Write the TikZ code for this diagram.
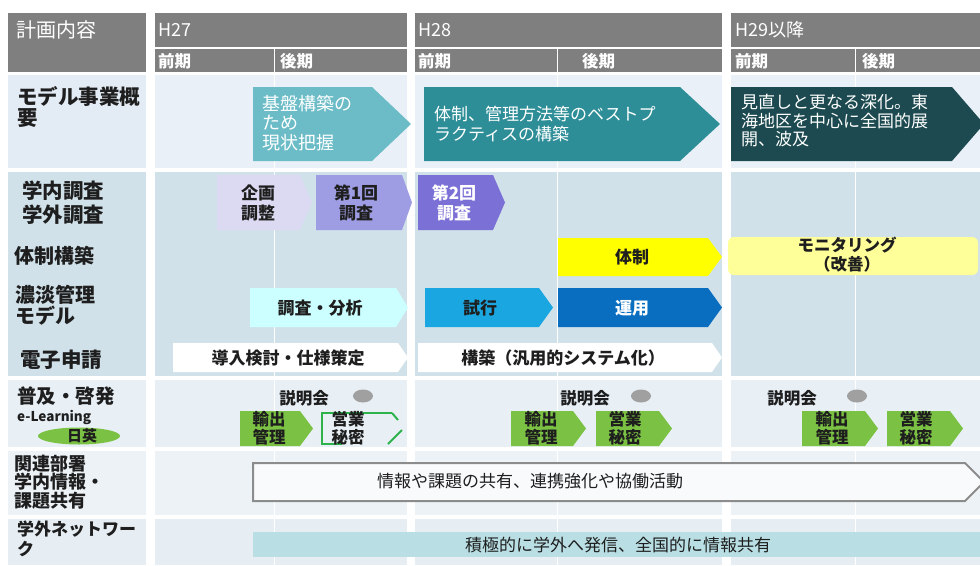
\documentclass[tikz,border=0pt]{standalone}
\usepackage{fontspec}
\setmainfont{Noto Sans CJK JP}
\definecolor{hdr}{HTML}{7F7F7F}
\definecolor{txtc}{HTML}{1E1E1E}
\definecolor{labA}{HTML}{E3EBF4}
\definecolor{rowA}{HTML}{E9F0F7}
\definecolor{rowB}{HTML}{D0E1E9}
\definecolor{rowC}{HTML}{E8F0F6}
\definecolor{rowD}{HTML}{EDF2F6}
\definecolor{rowE}{HTML}{E6EEF3}
\definecolor{arA}{HTML}{6BBCC7}
\definecolor{arB}{HTML}{2E8E98}
\definecolor{arC}{HTML}{1C4A50}
\definecolor{lavA}{HTML}{DCDAF2}
\definecolor{lavB}{HTML}{9E9CE2}
\definecolor{lavC}{HTML}{7A70D5}
\definecolor{yelA}{HTML}{FFFF00}
\definecolor{yelB}{HTML}{FFFF99}
\definecolor{cyA}{HTML}{CCFFFF}
\definecolor{bluA}{HTML}{1AA6E0}
\definecolor{bluB}{HTML}{0A6EC0}
\definecolor{grnA}{HTML}{7BC244}
\definecolor{grnB}{HTML}{2DB34A}
\definecolor{grayE}{HTML}{A0A0A0}
\definecolor{barE}{HTML}{B9DFE4}
\definecolor{bordD}{HTML}{8C8C8C}
\newcommand\fz[2]{\fontsize{#1}{#2}\selectfont}
\newcommand\pent[6]{\fill[#1] (#2,#3) -- ({#4-#6},#3) -- (#4,{(#3+#5)/2}) -- ({#4-#6},#5) -- (#2,#5) -- cycle;}
\begin{document}
\begin{tikzpicture}[x=1pt,y=-1pt,
  lab/.style={inner sep=0pt, anchor=west, align=left, text=txtc},
  ctr/.style={inner sep=0pt, align=center, text=txtc},
  hd/.style={inner sep=0pt, anchor=west, text=white}]
\clip (0,0) rectangle (980,565);
\useasboundingbox (0,0) rectangle (980,565);
\fill[white] (0,0) rectangle (980,565);
% header
\fill[hdr] (8,13) rectangle (146,72);
\fill[hdr] (155,13) rectangle (407,47);
\fill[hdr] (155,48.5) rectangle (273.5,72);
\fill[hdr] (275,48.5) rectangle (407,72);
\fill[hdr] (415,13) rectangle (722,47);
\fill[hdr] (415,48.5) rectangle (556.5,72);
\fill[hdr] (558,48.5) rectangle (722,72);
\fill[hdr] (731,13) rectangle (980,47);
\fill[hdr] (731,48.5) rectangle (854.5,72);
\fill[hdr] (856,48.5) rectangle (980,72);
\node[hd, font=\fz{20}{22}] (hplan) at (16,30) {計画内容};
\node[hd, font=\fz{18}{20}] (h27) at (158,30) {H27};
\node[hd, font=\fz{18}{20}] (h28) at (418,30) {H28};
\node[hd, font=\fz{18}{20}] (h29) at (735,30) {H29以降};
\node[hd, font=\bfseries\fz{16.5}{18}] (p1) at (158,61) {前期};
\node[hd, font=\bfseries\fz{16.5}{18}] (p2) at (280,61) {後期};
\node[hd, font=\bfseries\fz{16.5}{18}] (p3) at (418,61) {前期};
\node[hd, font=\bfseries\fz{16.5}{18}] (p4) at (582,61) {後期};
\node[hd, font=\bfseries\fz{16.5}{18}] (p5) at (735,61) {前期};
\node[hd, font=\bfseries\fz{16.5}{18}] (p6) at (862,61) {後期};
% row backgrounds
\fill[labA] (8,75) rectangle (146,168);
\foreach \a/\b in {155/407,415/722,731/980}{
  \fill[rowA] (\a,75) rectangle (\b,168);
  \fill[rowB] (\a,172) rectangle (\b,376);
  \fill[rowC] (\a,380) rectangle (\b,447);
  \fill[rowD] (\a,451) rectangle (\b,515);
  \fill[rowE] (\a,519) rectangle (\b,565);
}
\fill[rowB] (8,172) rectangle (146,376);
\fill[rowC] (8,380) rectangle (146,447);
\fill[rowD] (8,451) rectangle (146,515);
\fill[rowE] (8,519) rectangle (146,565);
\foreach \x in {274,557,855}{\draw[white, line width=1pt] (\x,75) -- (\x,565);}
% labels
\node[lab, font=\bfseries\fz{20.5}{21.5}] (l1) at (17,107) {モデル事業概\\要};
\node[lab, font=\bfseries\fz{20.5}{24}] (l2) at (22,203) {学内調査\\学外調査};
\node[lab, font=\bfseries\fz{20}{22}] (l3) at (14,256) {体制構築};
\node[lab, font=\bfseries\fz{20}{21.5}] (l4) at (15,305) {濃淡管理\\モデル};
\node[lab, font=\bfseries\fz{20.5}{22}] (l5) at (20,360) {電子申請};
\node[lab, font=\bfseries\fz{19.5}{21}] (l6) at (17,396) {普及・啓発};
\node[lab, font=\bfseries\fz{13.5}{15}] (l6b) at (17,417) {e-Learning};
\fill[grnA] (79,436) ellipse [x radius=41, y radius=8.5];
\node[ctr, font=\bfseries\fz{15}{16}] (nichiei) at (82,436) {日英};
\node[lab, font=\bfseries\fz{18}{18.5}] (l7) at (14,482) {関連部署\\学内情報・\\課題共有};
\node[lab, font=\bfseries\fz{17}{20}] (l8) at (17,539) {学外ネットワー\\ク};
% row 1 arrows
\pent{arA}{253}{87}{411}{161}{39}
\node[lab, text=white, font=\fz{18}{19.5}] (a1) at (262,123) {基盤構築の\\ため\\現状把握};
\pent{arB}{424}{87}{720}{161}{40}
\node[lab, text=white, font=\fz{17}{19.5}] (a2) at (434,124) {体制、管理方法等のベストプ\\ラクティスの構築};
\pent{arC}{731}{87}{984}{161}{32}
\node[lab, text=white, font=\fz{17}{18.5}] (a3) at (741,121) {見直しと更なる深化。東\\海地区を中心に全国的展\\開、波及};
% row 2 arrows
\pent{lavA}{217}{175}{312}{230}{12}
\node[ctr, font=\bfseries\fz{17}{20}] (b1) at (258,203) {企画\\調整};
\pent{lavB}{316}{175}{412}{230}{10}
\node[ctr, font=\bfseries\fz{17}{20}] (b2) at (356,203) {第1回\\調査};
\pent{lavC}{418}{175}{505}{230}{12}
\node[ctr, text=white, font=\bfseries\fz{17}{20}] (b3) at (454,203) {第2回\\調査};
\pent{yelA}{558}{238}{722}{276}{14}
\node[ctr, font=\bfseries\fz{17}{20}] (c1) at (632,257) {体制};
\fill[yelB, rounded corners=6pt] (728,237) rectangle (978,275);
\node[ctr, font=\bfseries\fz{16.5}{19}] (c2) at (847,255) {モニタリング\\（改善）};
\pent{cyA}{250}{288}{408}{327}{12}
\node[ctr, font=\bfseries\fz{17}{20}] (d1) at (320,308) {調査・分析};
\pent{bluA}{425}{288}{553}{327}{14}
\node[ctr, font=\bfseries\fz{17}{20}] (d2) at (480,308) {試行};
\pent{bluB}{558}{288}{722}{327}{14}
\node[ctr, text=white, font=\bfseries\fz{17}{20}] (d3) at (632,308) {運用};
\pent{white}{173}{343}{408}{372}{10}
\node[ctr, font=\bfseries\fz{17}{20}] (e1) at (288,358) {導入検討・仕様策定};
\pent{white}{418}{343}{722}{372}{10}
\node[ctr, font=\bfseries\fz{17}{20}] (e2) at (563,358) {構築（汎用的システム化）};
% row 3
\node[ctr, font=\bfseries\fz{16.5}{18}] (s1) at (304,398) {説明会};
\fill[grayE] (363,396) ellipse [x radius=10, y radius=6.5];
\node[ctr, font=\bfseries\fz{16.5}{18}] (s2) at (585,398) {説明会};
\fill[grayE] (641,396) ellipse [x radius=10, y radius=6.5];
\node[ctr, font=\bfseries\fz{16.5}{18}] (s3) at (792,398) {説明会};
\fill[grayE] (857,396) ellipse [x radius=10, y radius=6.5];
\pent{grnA}{240}{411}{313}{446}{13}
\node[ctr, font=\bfseries\fz{16.5}{18}] (f1) at (269,428) {輸出\\管理};
\draw[grnB, line width=2pt] (392,413) -- (322,413) -- (322,444) -- (342,444);
\draw[grnB, line width=2pt] (392,413) -- (398,420);
\draw[grnB, line width=2pt] (388,444) -- (402,430);
\node[ctr, font=\bfseries\fz{16.5}{18}] (f2) at (348,428) {営業\\秘密};
\pent{grnA}{511}{411}{586}{446}{13}
\node[ctr, font=\bfseries\fz{16.5}{18}] (g1) at (541,428) {輸出\\管理};
\pent{grnA}{596}{411}{672}{446}{13}
\node[ctr, font=\bfseries\fz{16.5}{18}] (g2) at (625,428) {営業\\秘密};
\pent{grnA}{802}{411}{878}{446}{13}
\node[ctr, font=\bfseries\fz{16.5}{18}] (h1) at (832,428) {輸出\\管理};
\pent{grnA}{887}{411}{963}{446}{13}
\node[ctr, font=\bfseries\fz{16.5}{18}] (h2) at (916,428) {営業\\秘密};
% row 4
\filldraw[fill=white!60!rowD, draw=bordD, line width=2pt] (253,463) -- (965,463) -- (984,482) -- (965,501) -- (253,501) -- cycle;
\node[ctr, font=\fz{17}{20}] (k1) at (530,481) {情報や課題の共有、連携強化や協働活動};
% row 5
\fill[barE] (253,532) rectangle (980,557);
\node[ctr, font=\fz{17}{20}] (m1) at (618,545) {積極的に学外へ発信、全国的に情報共有};
\end{tikzpicture}
\end{document}
